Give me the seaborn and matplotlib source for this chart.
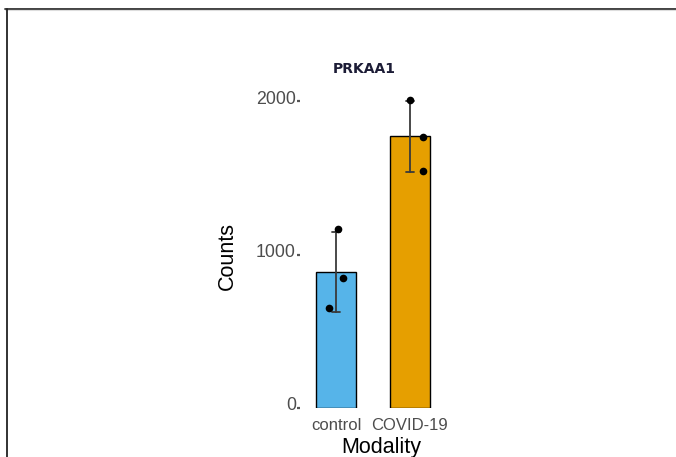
import numpy as np
import pandas as pd
import seaborn as sns
import matplotlib.pyplot as plt
from matplotlib.lines import Line2D
from matplotlib.transforms import ScaledTranslation

# Per-sample counts for PRKAA1
categories = ["control", "COVID-19"]
control_counts = [1165, 845, 650]
covid_counts = [2007, 1765, 1544]
palette_colors = ["#56B4E9", "#E69F00"]
y_ticks = [0, 1000, 2000]
y_tick_labels = ["0", "1000", "2000"]

df = pd.DataFrame({
    "Modality": [categories[0]] * len(control_counts) + [categories[1]] * len(covid_counts),
    "Counts": control_counts + covid_counts,
})

sns.set_theme(style="white")
plt.rcParams["font.family"] = ["Liberation Sans", "DejaVu Sans"]

fig = plt.figure(figsize=(6.76, 4.57), dpi=100)
# panel: 300..446 px wide, 86..408 px tall (from the top)
ax = fig.add_axes([300 / 676, 49 / 457, 146 / 676, 322 / 457])

sns.barplot(
    data=df, x="Modality", y="Counts", order=categories,
    hue="Modality", hue_order=categories, palette=palette_colors, legend=False,
    saturation=1, errorbar="sd", capsize=0.11, width=0.54,
    edgecolor="black", linewidth=1.0,
    err_kws={"color": "#3a3a3a", "linewidth": 1.3},
    ax=ax,
)

np.random.seed(3)
sns.stripplot(
    data=df, x="Modality", y="Counts", order=categories,
    color="black", size=5.5, jitter=0.22, ax=ax, zorder=5,
)

ax.set_xlim(-0.49, 1.49)
ax.set_ylim(0, 2100)
ax.set_yticks(y_ticks)
ax.set_yticklabels(y_tick_labels)
for s in ax.spines.values():
    s.set_visible(False)
ax.tick_params(axis="y", left=True, length=2, width=1.6, color="#555555", pad=1,
               labelsize=12.8, labelcolor="#4d4d4d")
ax.tick_params(axis="x", bottom=False, length=0, pad=7, labelsize=12, labelcolor="#4d4d4d")

# raise the y tick labels so the tick sits at their baseline
lift = ScaledTranslation(0, 4 / 100, fig.dpi_scale_trans)
for lab in ax.get_yticklabels():
    lab.set_transform(lab.get_transform() + lift)

ax.set_xlabel("Modality", fontsize=15.5, color="black")
ax.set_ylabel("Counts", fontsize=15.5, color="black")
ax.xaxis.set_label_coords((381 - 300) / 146, -(437 - 408) / 322)
ax.yaxis.set_label_coords((238 - 300) / 146, (408 - 256) / 322)

fig.text(364 / 676, 1 - 69 / 457, "PRKAA1", fontsize=10, fontweight="bold",
         color="#1c1c36", family="DejaVu Sans", ha="center", va="center")

# page frame lines along the top and left edges
fig.add_artist(Line2D([5 / 676, 1.0], [1 - 8.5 / 457] * 2, transform=fig.transFigure,
                      color="#333333", linewidth=1.3))
fig.add_artist(Line2D([5 / 676, 1.0], [1 - 10 / 457] * 2, transform=fig.transFigure,
                      color="#dddddd", linewidth=0.8))
fig.add_artist(Line2D([6.5 / 676] * 2, [0.0, 1 - 8.5 / 457], transform=fig.transFigure,
                      color="#222222", linewidth=1.3))

fig.savefig("out.png", dpi=100)
